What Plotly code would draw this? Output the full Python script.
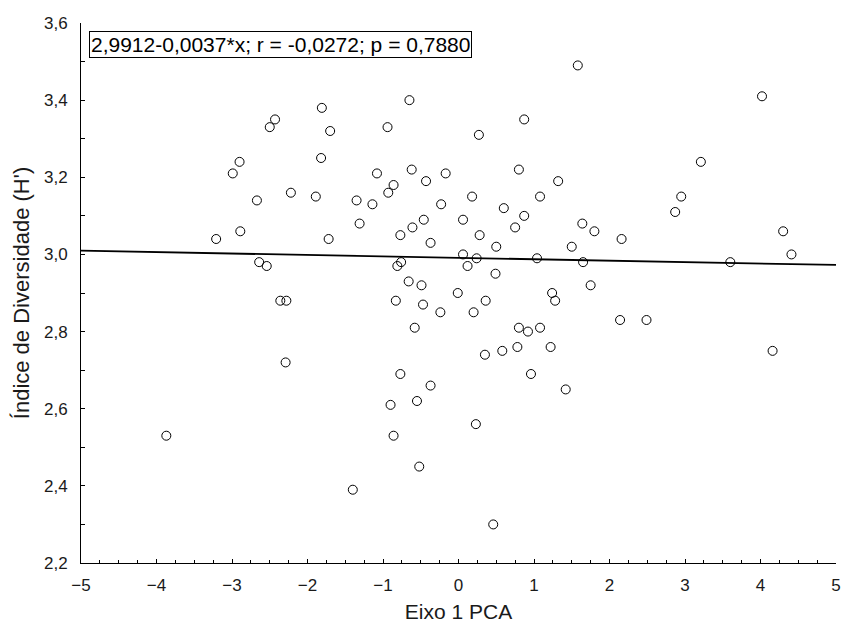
import plotly.graph_objects as go

# PCA axis-1 scores and Shannon diversity index (H') per sample
eixo1_pca = [
    -1.81, -2.43, -2.50, -1.70, -2.90, -1.82, -2.99, -2.22, -2.67, -1.89,
    -2.89, -3.21, -1.72, -2.64, -2.54, -2.36, -2.28,
    1.58, -0.65, 0.87, -0.94, 0.27, -0.62, 0.80, -1.08, -0.17, -0.43,
    1.32, -0.86, -0.93, -1.35, -1.14, 0.18, 1.08, -0.23, 0.60, 0.87,
    0.75, 0.06, -0.46, -0.61, -1.31, -0.77, 0.28, -0.37, 0.50, 1.64,
    1.50, 0.06, 0.24, -0.76, -0.81, 0.12, 1.04, 1.65, 0.49, -0.66,
    -0.49, -0.01, -0.83, -0.47, 0.36, 1.24, 1.28,
    4.02, 3.21, 2.95, 2.87, 1.80, 2.16, 4.30, 4.41, 3.60, 1.75,
    -2.29, -3.87,
    -0.24, 0.20, -0.58, 0.80, 0.92, 1.08, 0.35, 0.58, 0.78, 1.22,
    0.96, 1.42, -0.77, -0.37, -0.55, -0.90, 0.23, -0.86, -0.52, -1.40,
    0.46,
    2.14, 2.49, 4.16,
]
indice_h = [
    3.38, 3.35, 3.33, 3.32, 3.24, 3.25, 3.21, 3.16, 3.14, 3.15,
    3.06, 3.04, 3.04, 2.98, 2.97, 2.88, 2.88,
    3.49, 3.40, 3.35, 3.33, 3.31, 3.22, 3.22, 3.21, 3.21, 3.19,
    3.19, 3.18, 3.16, 3.14, 3.13, 3.15, 3.15, 3.13, 3.12, 3.10,
    3.07, 3.09, 3.09, 3.07, 3.08, 3.05, 3.05, 3.03, 3.02, 3.08,
    3.02, 3.00, 2.99, 2.98, 2.97, 2.97, 2.99, 2.98, 2.95, 2.93,
    2.92, 2.90, 2.88, 2.87, 2.88, 2.90, 2.88,
    3.41, 3.24, 3.15, 3.11, 3.06, 3.04, 3.06, 3.00, 2.98, 2.92,
    2.72, 2.53,
    2.85, 2.85, 2.81, 2.81, 2.80, 2.81, 2.74, 2.75, 2.76, 2.76,
    2.69, 2.65, 2.69, 2.66, 2.62, 2.61, 2.56, 2.53, 2.45, 2.39,
    2.30,
    2.83, 2.83, 2.75,
]

# Fitted linear regression
intercepto = 2.9912
inclinacao = -0.0037
r_valor = -0.0272
p_valor = 0.7880
x_reta = [-5, 5]
y_reta = [intercepto + inclinacao * x for x in x_reta]

def fmt(v, d):
    return f"{v:.{d}f}".replace(".", ",")

rotulo = (f"{fmt(intercepto, 4)}{fmt(inclinacao, 4)}*x; "
          f"r = {fmt(r_valor, 4)}; p = {fmt(p_valor, 4)}")

FONT = "Liberation Sans, Arial, sans-serif"
TXT = "#1a1a1a"

fig = go.Figure()
fig.add_trace(go.Scatter(
    x=x_reta, y=y_reta, mode="lines",
    line=dict(color="black", width=1.8),
    hoverinfo="skip", showlegend=False,
))
fig.add_trace(go.Scatter(
    x=eixo1_pca, y=indice_h, mode="markers",
    marker=dict(symbol="circle-open", size=9, color="black",
                line=dict(color="black", width=1)),
    showlegend=False,
))

fig.add_annotation(
    xref="paper", yref="paper", x=0.0105, y=0.986,
    xanchor="left", yanchor="top", showarrow=False,
    text=rotulo, align="left",
    font=dict(family=FONT, size=21, color="black"),
    bgcolor="white", bordercolor="black", borderwidth=1, borderpad=1,
)

fig.update_layout(
    width=847, height=625,
    margin=dict(l=81, r=6, t=23, b=61),
    paper_bgcolor="white", plot_bgcolor="white",
    separators=",.",
    font=dict(family=FONT, size=16, color=TXT),
)
fig.update_xaxes(
    range=[-5, 5], dtick=1, tick0=-5,
    showgrid=False, zeroline=False,
    showline=True, linecolor="black", linewidth=1,
    ticks="inside", ticklen=4, tickcolor="black",
    minor=dict(dtick=0.25, tick0=-5, ticks="inside", ticklen=3,
               tickcolor="black", showgrid=False),
    ticklabelstandoff=7,
    tickfont=dict(family=FONT, size=17, color=TXT),
    title=dict(text="Eixo 1 PCA", font=dict(family=FONT, size=21, color=TXT),
               standoff=9),
)
fig.update_yaxes(
    range=[2.2, 3.6], dtick=0.2, tick0=2.2, tickformat=".1f",
    showgrid=False, zeroline=False,
    showline=True, linecolor="black", linewidth=1,
    ticks="inside", ticklen=4, tickcolor="black",
    minor=dict(dtick=0.1, tick0=2.2, ticks="inside", ticklen=4,
               tickcolor="black", showgrid=False),
    ticklabelstandoff=9,
    tickfont=dict(family=FONT, size=17, color=TXT),
    title=dict(text="Índice de Diversidade (H')",
               font=dict(family=FONT, size=22, color=TXT),
               standoff=8),
)

fig.write_html("out.html")
